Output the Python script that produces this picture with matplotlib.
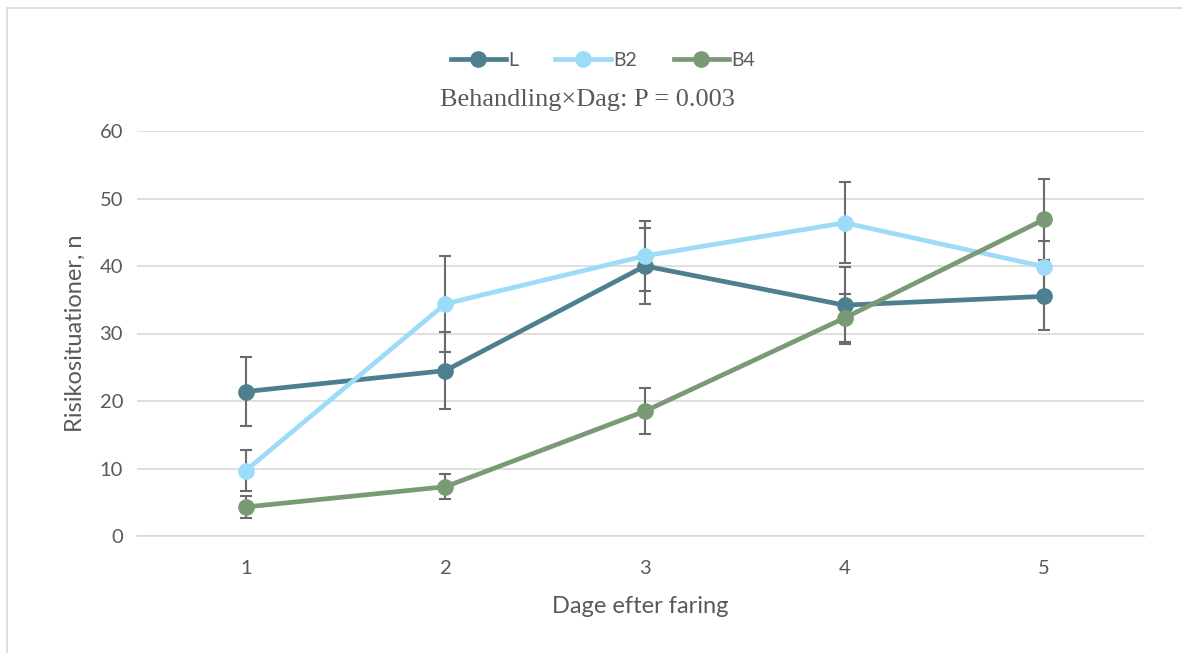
import matplotlib.pyplot as plt
from matplotlib.lines import Line2D

days = [1, 2, 3, 4, 5]
series = ["L", "B2", "B4"]
l_vals = [21.4, 24.5, 40.0, 34.2, 35.5]
l_err = [5.1, 5.7, 5.6, 5.7, 5.0]
b2_vals = [9.7, 34.4, 41.5, 46.4, 39.9]
b2_err = [3.0, 7.1, 5.2, 6.0, 3.8]
b4_vals = [4.3, 7.3, 18.5, 32.3, 46.9]
b4_err = [1.6, 1.85, 3.4, 3.6, 6.0]
colors = ["#4e7f8e", "#9ddcf9", "#7a9a76"]

plt.rcParams['font.family'] = ['Lato', 'DejaVu Sans']
txt = "#595959"

fig = plt.figure(figsize=(11.82, 6.53), dpi=100)
ax = fig.add_axes([137/1182, 1-536/653, 1007/1182, 405/653])

for name, v, e, c in zip(series, [l_vals, b2_vals, b4_vals],
                         [l_err, b2_err, b4_err], colors):
    ax.errorbar(days, v, yerr=e, fmt='none', ecolor="#6b6b6b",
                elinewidth=1.5, capsize=4.5, capthick=1.5, zorder=2)
    ax.plot(days, v, color=c, lw=3.4, marker='o', markersize=11,
            label=name, zorder=3)

ax.set_xlim(0.455, 5.5)
ax.set_ylim(0, 60)
ax.set_yticks(range(0, 61, 10))
ax.set_xticks(days)
ax.grid(axis='y', color="#d9d9d9", lw=1.2)
ax.set_axisbelow(True)
for s in ['top', 'right', 'left']:
    ax.spines[s].set_visible(False)
ax.spines['bottom'].set_color("#d9d9d9")
ax.spines['bottom'].set_linewidth(1.2)
ax.tick_params(length=0, labelsize=14.5, colors=txt)
ax.tick_params(axis='x', pad=17)
ax.tick_params(axis='y', pad=10)
ax.set_xlabel("Dage efter faring", fontsize=17, color=txt, labelpad=14)
ax.set_ylabel("Risikosituationer, n", fontsize=17, color=txt, labelpad=10)

fig.legend(loc='center', bbox_to_anchor=(0.510, 0.907), ncol=3, frameon=False,
           fontsize=14, handlelength=2.85, columnspacing=1.9, handletextpad=0.12,
           labelcolor=txt)
fig.text(0.4966, 1-105.7/653, "Behandling×Dag: P = 0.003", ha='center',
         va='baseline', fontsize=19, color=txt,
         family=['Liberation Serif', 'DejaVu Serif'])

# outer chart frame (top and left edges visible)
fig.add_artist(Line2D([7/1182, 1], [1-8/653, 1-8/653], transform=fig.transFigure,
                      color="#d9d9d9", lw=1.2))
fig.add_artist(Line2D([7/1182, 7/1182], [0, 1-8/653], transform=fig.transFigure,
                      color="#d9d9d9", lw=1.2))

fig.savefig("out.png", dpi=100)
